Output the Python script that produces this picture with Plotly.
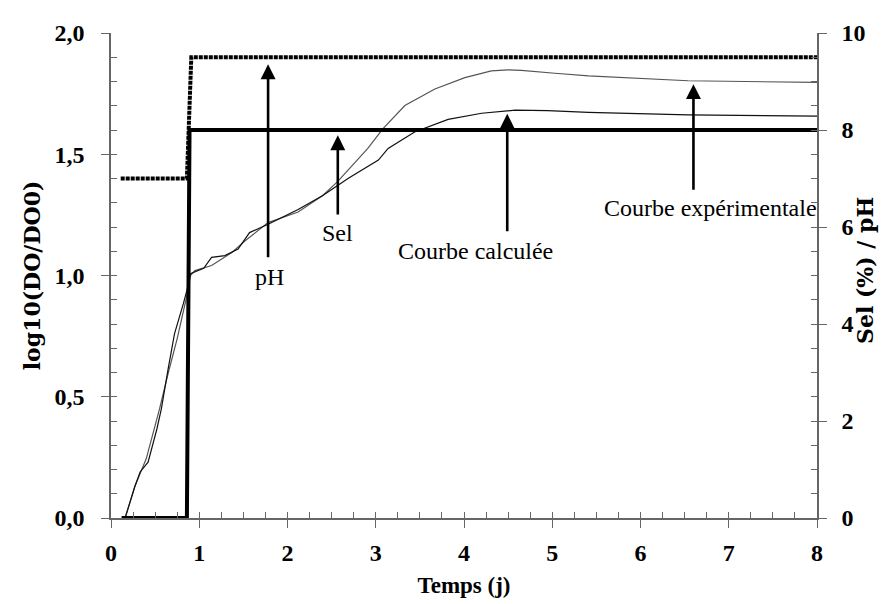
import plotly.graph_objects as go

# ---- data ----
sel_x = [0.12, 0.86, 0.89, 8.0]
sel_y = [0, 0, 8, 8]
ph_x = [0.11, 0.86, 0.91, 8.0]
ph_y = [7.0, 7.0, 9.5, 9.5]

exp_x = [0.16, 0.27, 0.40, 0.55, 0.65, 0.75, 0.85, 0.90, 0.95, 1.14, 1.37, 1.52, 1.78, 2.12, 2.40,
         2.57, 2.91, 3.08, 3.33, 3.67, 4.01, 4.31, 4.50, 4.65, 5.03, 5.41, 6.54, 8.0]
exp_y = [0.0, 0.13, 0.245, 0.45, 0.60, 0.74, 0.90, 1.00, 1.02, 1.041, 1.095, 1.143, 1.218, 1.262, 1.33,
         1.388, 1.524, 1.605, 1.701, 1.769, 1.816, 1.844, 1.848, 1.846, 1.834, 1.823, 1.803, 1.796]

calc_x = [0.16, 0.27, 0.33, 0.42, 0.52, 0.57, 0.65, 0.72, 0.82, 0.86, 0.90, 0.99, 1.05, 1.14, 1.29,
          1.44, 1.57, 1.78, 2.12, 2.40, 2.69, 3.03, 3.14, 3.44, 3.82, 4.20, 4.58, 4.95, 5.41, 6.54, 8.0]
calc_y = [0.0, 0.13, 0.19, 0.23, 0.367, 0.449, 0.62, 0.76, 0.884, 0.939, 1.007, 1.02, 1.03, 1.075, 1.082,
          1.109, 1.177, 1.211, 1.272, 1.33, 1.401, 1.476, 1.524, 1.592, 1.644, 1.669, 1.682, 1.680, 1.673, 1.662, 1.657]

labels = ["pH", "Sel", "Courbe calculée", "Courbe expérimentale"]
label_x = [1.80, 2.57, 4.13, 6.79]
label_y = [0.993, 1.175, 1.102, 1.279]
arrow_x = [1.78, 2.57, 4.49, 6.60]
arrow_tip = [1.871, 1.578, 1.667, 1.789]
arrow_tail = [1.069, 1.245, 1.176, 1.347]

FONT = "Liberation Serif"
VFONT = "DejaVu Serif"

fig = go.Figure()
fig.add_trace(go.Scatter(x=exp_x, y=exp_y, mode="lines", line=dict(color="#555555", width=1.2),
                         yaxis="y", showlegend=False))
fig.add_trace(go.Scatter(x=calc_x, y=calc_y, mode="lines", line=dict(color="#111111", width=1.2),
                         yaxis="y", showlegend=False))
fig.add_trace(go.Scatter(x=sel_x, y=sel_y, mode="lines", line=dict(color="black", width=4),
                         yaxis="y2", showlegend=False))
fig.add_trace(go.Scatter(x=ph_x, y=ph_y, mode="lines", line=dict(color="black", width=4, dash="4px,1px"),
                         yaxis="y2", showlegend=False))

tickfont = dict(family=FONT, size=24, color="black", weight="bold")
xtitlefont = dict(family=FONT, size=23, color="black", weight="bold")
vtitlefont = dict(family=VFONT, size=22, color="black", weight="bold")
axcol = "#666666"

ann = []
for lx, ly, t in zip(label_x, label_y, labels):
    ann.append(dict(x=lx, y=ly, xref="x", yref="y", text=t, showarrow=False,
                    font=dict(family=FONT, size=24, color="black"),
                    xanchor="center", yanchor="middle"))
for axx, tip, tail in zip(arrow_x, arrow_tip, arrow_tail):
    ann.append(dict(x=axx, y=tip, ax=axx, ay=tail, xref="x", yref="y", axref="x", ayref="y",
                    text="", showarrow=True, arrowhead=2, arrowsize=1.15, arrowwidth=2.6,
                    arrowcolor="black", standoff=0, startstandoff=0))
# right axis title
ann.append(dict(x=1.067, y=0.51, xref="paper", yref="paper", text="Sel (%) / pH", showarrow=False,
                textangle=-90, font=vtitlefont, xanchor="center", yanchor="middle"))

fig.update_layout(
    width=889, height=604,
    margin=dict(l=103, r=80, t=21, b=94),
    paper_bgcolor="white", plot_bgcolor="white",
    separators=",.",
    annotations=ann,
    xaxis=dict(range=[0, 8], tickvals=[0, 1, 2, 3, 4, 5, 6, 7, 8], ticks="outside", ticklen=8,
               tickcolor=axcol, showline=True, linecolor=axcol, linewidth=1.5, showgrid=False,
               zeroline=False, tickfont=tickfont, ticklabelstandoff=4,
               title=dict(text="Temps (j)", font=xtitlefont, standoff=12)),
    xaxis2=dict(range=[0, 8], overlaying="x", dtick=0.25, tick0=0, ticks="inside", ticklen=6,
                tickcolor=axcol, showticklabels=False, showgrid=False, zeroline=False, showline=False),
    yaxis=dict(range=[0, 2], tickvals=[0, 0.5, 1.0, 1.5, 2.0], tickformat=".1f", ticks="outside",
               ticklen=8, tickcolor=axcol, showline=True, linecolor=axcol, linewidth=1.5,
               showgrid=False, zeroline=False, tickfont=tickfont, ticklabelstandoff=12,
               title=dict(text="log10(DO/DO0)", font=vtitlefont, standoff=8)),
    yaxis3=dict(range=[0, 2], overlaying="y", dtick=0.1, tick0=0, ticks="inside", ticklen=6,
                tickcolor=axcol, showticklabels=False, showgrid=False, zeroline=False, showline=False),
    yaxis2=dict(range=[0, 10], overlaying="y", side="right", tickvals=[0, 2, 4, 6, 8, 10],
                ticks="outside", ticklen=8, tickcolor=axcol, showline=True, linecolor=axcol,
                linewidth=1.5, showgrid=False, zeroline=False, tickfont=tickfont, ticklabelstandoff=10),
    yaxis4=dict(range=[0, 10], overlaying="y", side="right", dtick=0.5, tick0=0, ticks="inside",
                ticklen=6, tickcolor=axcol, showticklabels=False, showgrid=False, zeroline=False,
                showline=False),
)
# dummy traces to activate overlay axes
fig.add_trace(go.Scatter(x=[None], y=[None], xaxis="x2", yaxis="y3", showlegend=False))
fig.add_trace(go.Scatter(x=[None], y=[None], xaxis="x", yaxis="y4", showlegend=False))

fig.write_html("out.html")
